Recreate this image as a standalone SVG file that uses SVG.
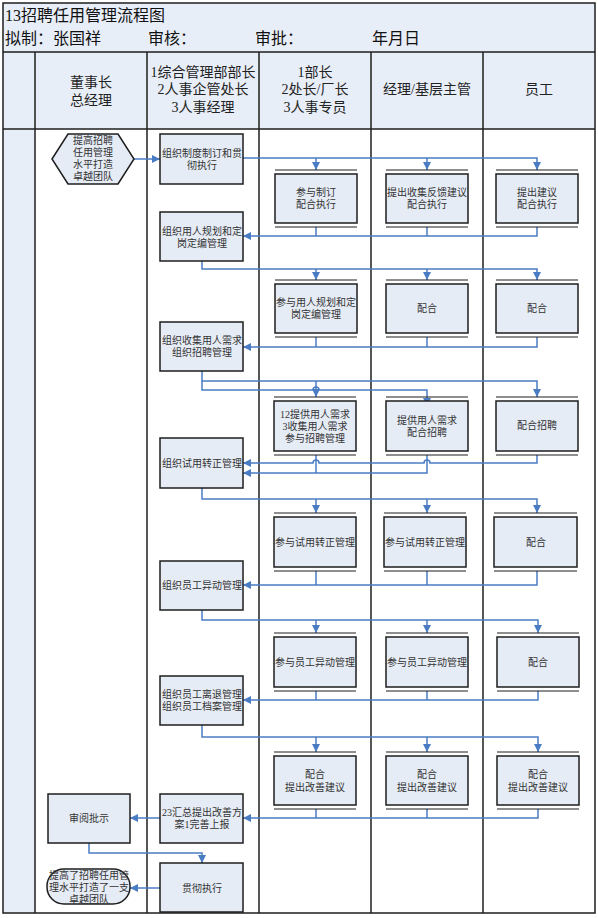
<svg xmlns="http://www.w3.org/2000/svg" width="598" height="918" viewBox="0 0 598 918">
<defs>
<style>
.box{fill:#E6ECF6;stroke:#1e1e1e;stroke-width:1.5}
.pl{stroke:#1e1e1e;stroke-width:1.2}
.t{font-family:"Liberation Serif","Noto Sans CJK SC",serif;font-size:10px;fill:#333;text-anchor:middle;dominant-baseline:central}
.h{font-family:"Liberation Serif","Noto Sans CJK SC",serif;font-size:14px;fill:#222;text-anchor:middle;dominant-baseline:central}
.ti{font-family:"Liberation Serif","Noto Sans CJK SC",serif;font-size:16px;fill:#111}
.c{fill:none;stroke:#4A7CC4;stroke-width:1.5;marker-end:url(#ah)}
.n{fill:none;stroke:#4A7CC4;stroke-width:1.5}
.lane{stroke:#1e1e1e;stroke-width:1.5}
</style>
<marker id="ah" viewBox="0 0 10 10" refX="10" refY="5" markerWidth="8" markerHeight="8" markerUnits="userSpaceOnUse" orient="auto">
<path d="M0,0 L10,5 L0,10 z" fill="#4A7CC4"/>
</marker>
</defs>
<rect x="0" y="0" width="598" height="918" fill="#fff"/>
<g id="frame">
<rect x="3" y="3" width="592" height="49" fill="#E8EEF8"/>
<rect x="3" y="52" width="592" height="77" fill="#E8EEF8"/>
<rect x="3" y="129" width="32" height="784" fill="#E8EEF8"/>
<rect x="3" y="3" width="592" height="910" fill="none" stroke="#1e1e1e" stroke-width="1.5"/>
<line class="lane" x1="3" y1="52" x2="595" y2="52"/>
<line class="lane" x1="3" y1="129" x2="595" y2="129"/>
<line class="lane" x1="35" y1="52" x2="35" y2="913"/>
<line class="lane" x1="147" y1="52" x2="147" y2="913"/>
<line class="lane" x1="259" y1="52" x2="259" y2="913"/>
<line class="lane" x1="371" y1="52" x2="371" y2="913"/>
<line class="lane" x1="483" y1="52" x2="483" y2="913" stroke="#555"/>
<text class="ti" x="5" y="21">13招聘任用管理流程图</text>
<text class="ti" x="5" y="44">拟制：张国祥</text>
<text class="ti" x="148" y="44">审核：</text>
<text class="ti" x="255" y="44">审批：</text>
<text class="ti" x="372" y="44">年月日</text>
<text class="h" x="91" y="82">董事长</text>
<text class="h" x="91" y="100">总经理</text>
<text class="h" x="203" y="72">1综合管理部部长</text>
<text class="h" x="203" y="89">2人事企管处长</text>
<text class="h" x="203" y="107">3人事经理</text>
<text class="h" x="315" y="72">1部长</text>
<text class="h" x="315" y="89">2处长/厂长</text>
<text class="h" x="315" y="107">3人事专员</text>
<text class="h" x="427" y="89">经理/基层主管</text>
<text class="h" x="539" y="89">员工</text>
</g>
<g id="connectors">
<path class="c" d="M134,159 H160"/>
<path class="c" d="M243,158 H537 V170"/>
<path class="c" d="M316,158 V170"/>
<path class="c" d="M427,158 V170"/>
<path class="n" d="M316,227 V236 M427,227 V236"/>
<path class="c" d="M537,227 V236 H243"/>
<path class="c" d="M202,261 V269 H537 V280"/>
<path class="c" d="M316,269 V280"/>
<path class="c" d="M427,269 V280"/>
<path class="n" d="M316,337 V347 M427,337 V347"/>
<path class="c" d="M537,337 V347 H243"/>
<path class="c" d="M202,371 V381 H537 V397"/>
<path class="c" d="M316,381 V397"/>
<path class="c" d="M202,381 V390 H313 A3,3 0 0 1 319,390 H427 V406"/>
<path class="c" d="M537,455 V463 H430 A3,3 0 0 0 424,463 H319 A3,3 0 0 0 313,463 H243"/>
<path class="n" d="M316,455 V473"/>
<path class="c" d="M427,455 V473 H243"/>
<path class="c" d="M202,488 V499 H537 V513"/>
<path class="c" d="M316,499 V513"/>
<path class="c" d="M427,499 V513"/>
<path class="n" d="M316,571 V585 M427,571 V585"/>
<path class="c" d="M537,571 V585 H243"/>
<path class="c" d="M202,610 V620 H538 V633"/>
<path class="c" d="M316,620 V633"/>
<path class="c" d="M427,620 V633"/>
<path class="n" d="M316,691 V700 M427,691 V700"/>
<path class="c" d="M538,691 V700 H243"/>
<path class="c" d="M202,725 V737 H538 V752"/>
<path class="c" d="M316,737 V752"/>
<path class="c" d="M427,737 V752"/>
<path class="n" d="M316,809 V818 M427,809 V818"/>
<path class="c" d="M538,809 V818 H243"/>
<path class="c" d="M160,818 H130"/>
<path class="c" d="M89,843 V853 H202 V863"/>
<path class="c" d="M160,888 H130"/>
</g>
<g id="start">
<polygon class="box" points="52,159 68,134 118,134 134,159 118,184 68,184"/>
<text class="t" x="93" y="140">提高招聘</text>
<text class="t" x="93" y="152">任用管理</text>
<text class="t" x="93" y="164">水平打造</text>
<text class="t" x="93" y="176">卓越团队</text>
</g>
<g id="b1"><rect class="box" x="160" y="134" width="83" height="50"/>
<text class="t" x="202" y="153">组织制度制订和贯</text><text class="t" x="202" y="165">彻执行</text></g>
<g id="b2"><rect class="box" x="160" y="212" width="83" height="49"/>
<text class="t" x="202" y="231">组织用人规划和定</text><text class="t" x="202" y="243">岗定编管理</text></g>
<g id="b3"><rect class="box" x="160" y="322" width="83" height="49"/>
<text class="t" x="202" y="340">组织收集用人需求</text><text class="t" x="202" y="352">组织招聘管理</text></g>
<g id="b4"><rect class="box" x="160" y="438" width="83" height="50"/>
<text class="t" x="202" y="463">组织试用转正管理</text></g>
<g id="b5"><rect class="box" x="160" y="561" width="83" height="49"/>
<text class="t" x="202" y="585">组织员工异动管理</text></g>
<g id="b6"><rect class="box" x="160" y="676" width="83" height="49"/>
<text class="t" x="202" y="694">组织员工离退管理</text><text class="t" x="202" y="706">组织员工档案管理</text></g>
<g id="b7"><rect class="box" x="160" y="794" width="83" height="49"/>
<text class="t" x="202" y="812">23汇总提出改善方</text><text class="t" x="202" y="824">案1完善上报</text></g>
<g id="b8"><rect class="box" x="160" y="863" width="83" height="49"/>
<text class="t" x="202" y="888">贯彻执行</text></g>
<g id="approve"><rect class="box" x="48" y="794" width="82" height="49"/>
<text class="t" x="89" y="818">审阅批示</text></g>
<g id="end"><rect class="box" x="47" y="869" width="83" height="35" rx="17" ry="17"/>
<text class="t" x="89" y="875">提高了招聘任用管</text>
<text class="t" x="89" y="887">理水平打造了一支</text>
<text class="t" x="89" y="899">卓越团队</text></g>
<g id="r1c3"><line class="pl" x1="275" y1="170" x2="357" y2="170"/><line class="pl" x1="275" y1="227" x2="357" y2="227"/><rect class="box" x="275" y="174" width="82" height="49"/>
<text class="t" x="316" y="192">参与制订</text><text class="t" x="316" y="204">配合执行</text></g>
<g id="r1c4"><line class="pl" x1="386" y1="170" x2="468" y2="170"/><line class="pl" x1="386" y1="227" x2="468" y2="227"/><rect class="box" x="386" y="174" width="82" height="49"/>
<text class="t" x="427" y="192">提出收集反馈建议</text><text class="t" x="427" y="204">配合执行</text></g>
<g id="r1c5"><line class="pl" x1="496" y1="170" x2="578" y2="170"/><line class="pl" x1="496" y1="227" x2="578" y2="227"/><rect class="box" x="496" y="174" width="82" height="49"/>
<text class="t" x="537" y="192">提出建议</text><text class="t" x="537" y="204">配合执行</text></g>
<g id="r2c3"><line class="pl" x1="275" y1="280" x2="357" y2="280"/><line class="pl" x1="275" y1="337" x2="357" y2="337"/><rect class="box" x="275" y="284" width="82" height="49"/>
<text class="t" x="316" y="302">参与用人规划和定</text><text class="t" x="316" y="314">岗定编管理</text></g>
<g id="r2c4"><line class="pl" x1="386" y1="280" x2="468" y2="280"/><line class="pl" x1="386" y1="337" x2="468" y2="337"/><rect class="box" x="386" y="284" width="82" height="49"/>
<text class="t" x="427" y="308">配合</text></g>
<g id="r2c5"><line class="pl" x1="496" y1="280" x2="578" y2="280"/><line class="pl" x1="496" y1="337" x2="578" y2="337"/><rect class="box" x="496" y="284" width="82" height="49"/>
<text class="t" x="537" y="308">配合</text></g>
<g id="r3c3"><line class="pl" x1="274" y1="397" x2="356" y2="397"/><line class="pl" x1="274" y1="455" x2="356" y2="455"/><rect class="box" x="274" y="401" width="82" height="50"/>
<text class="t" x="315" y="414">12提供用人需求</text><text class="t" x="315" y="426">3收集用人需求</text><text class="t" x="315" y="438">参与招聘管理</text></g>
<g id="r3c4"><line class="pl" x1="386" y1="397" x2="468" y2="397"/><line class="pl" x1="386" y1="455" x2="468" y2="455"/><rect class="box" x="386" y="401" width="82" height="50"/>
<text class="t" x="427" y="420">提供用人需求</text><text class="t" x="427" y="432">配合招聘</text></g>
<g id="r3c5"><line class="pl" x1="496" y1="397" x2="578" y2="397"/><line class="pl" x1="496" y1="455" x2="578" y2="455"/><rect class="box" x="496" y="401" width="82" height="50"/>
<text class="t" x="537" y="425">配合招聘</text></g>
<g id="r4c3"><line class="pl" x1="274" y1="513" x2="356" y2="513"/><line class="pl" x1="274" y1="571" x2="356" y2="571"/><rect class="box" x="274" y="517" width="82" height="50"/>
<text class="t" x="315" y="542">参与试用转正管理</text></g>
<g id="r4c4"><line class="pl" x1="384" y1="513" x2="466" y2="513"/><line class="pl" x1="384" y1="571" x2="466" y2="571"/><rect class="box" x="384" y="517" width="82" height="50"/>
<text class="t" x="425" y="542">参与试用转正管理</text></g>
<g id="r4c5"><line class="pl" x1="494" y1="513" x2="577" y2="513"/><line class="pl" x1="494" y1="571" x2="577" y2="571"/><rect class="box" x="494" y="517" width="83" height="50"/>
<text class="t" x="536" y="542">配合</text></g>
<g id="r5c3"><line class="pl" x1="274" y1="633" x2="356" y2="633"/><line class="pl" x1="274" y1="691" x2="356" y2="691"/><rect class="box" x="274" y="637" width="82" height="50"/>
<text class="t" x="315" y="662">参与员工异动管理</text></g>
<g id="r5c4"><line class="pl" x1="386" y1="633" x2="468" y2="633"/><line class="pl" x1="386" y1="691" x2="468" y2="691"/><rect class="box" x="386" y="637" width="82" height="50"/>
<text class="t" x="427" y="662">参与员工异动管理</text></g>
<g id="r5c5"><line class="pl" x1="497" y1="633" x2="579" y2="633"/><line class="pl" x1="497" y1="691" x2="579" y2="691"/><rect class="box" x="497" y="637" width="82" height="50"/>
<text class="t" x="538" y="662">配合</text></g>
<g id="r6c3"><line class="pl" x1="274" y1="752" x2="356" y2="752"/><line class="pl" x1="274" y1="809" x2="356" y2="809"/><rect class="box" x="274" y="756" width="82" height="49"/>
<text class="t" x="315" y="774">配合</text><text class="t" x="315" y="787">提出改善建议</text></g>
<g id="r6c4"><line class="pl" x1="386" y1="752" x2="468" y2="752"/><line class="pl" x1="386" y1="809" x2="468" y2="809"/><rect class="box" x="386" y="756" width="82" height="49"/>
<text class="t" x="427" y="774">配合</text><text class="t" x="427" y="787">提出改善建议</text></g>
<g id="r6c5"><line class="pl" x1="497" y1="752" x2="579" y2="752"/><line class="pl" x1="497" y1="809" x2="579" y2="809"/><rect class="box" x="497" y="756" width="82" height="49"/>
<text class="t" x="538" y="774">配合</text><text class="t" x="538" y="787">提出改善建议</text></g>
</svg>
